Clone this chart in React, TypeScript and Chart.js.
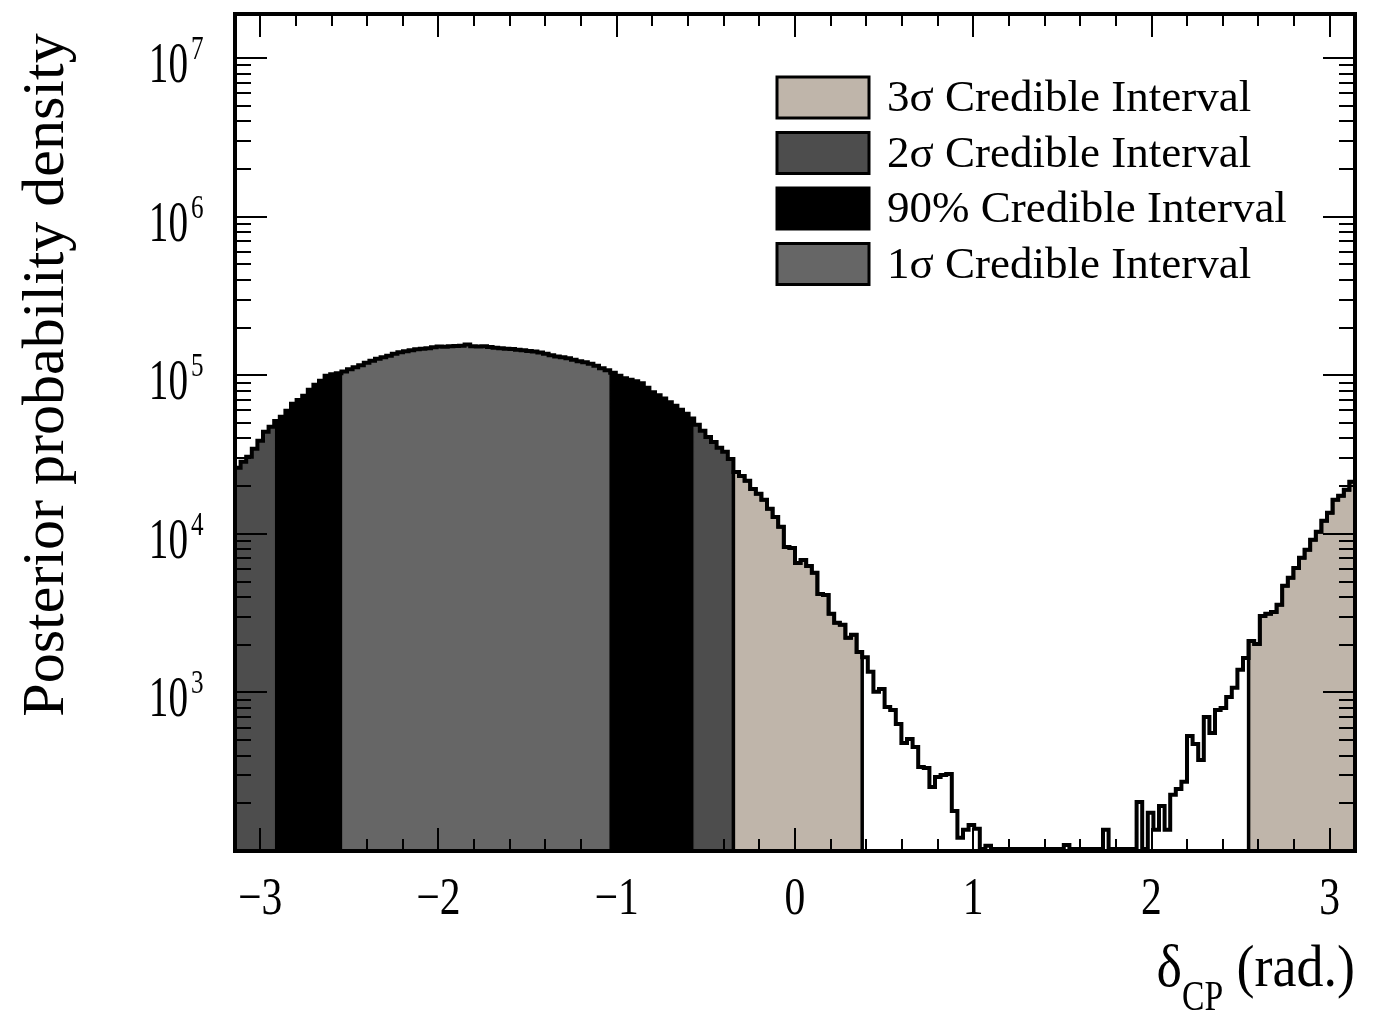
import React, { useEffect, useRef } from "react";
import { Chart, registerables } from "chart.js";

Chart.register(...registerables);

// ---------------- data ----------------
const NBINS = 200;
const X_MIN = -Math.PI;
const X_MAX = Math.PI;
const Y_MIN = 100;
const Y_MAX = 1.9e7;

// posterior probability density per bin (200 equal bins over [-pi, pi])
const density: number[] = [
  26100, 28500, 30600, 34400, 38600, 44000, 47300, 51600, 54700, 59700,
  66100, 70000, 74200, 81000, 87100, 92300, 99300, 101500, 103000, 105700,
  109100, 112300, 115600, 119900, 123500, 127100, 129900, 132800, 136700, 139700,
  141700, 143800, 145900, 147000, 148000, 150200, 151900, 151300, 152400, 152800,
  153900, 156200, 152400, 151900, 152400, 150800, 149500, 148000, 147000, 146300,
  144800, 143800, 142300, 141100, 139100, 136700, 133700, 131400, 129900, 128000,
  125300, 122600, 120800, 118200, 114800, 110700, 107500, 103700, 99300, 95700,
  93700, 91600, 89000, 83400, 78100, 74800, 71300, 67600, 64200, 60600,
  57200, 53500, 48700, 44700, 40900, 38000, 34900, 32900, 29700, 24600,
  23200, 21600, 19200, 17900, 16400, 14400, 12800, 11100, 8280, 8160,
  6560, 6850, 6280, 5680, 4180, 4120, 3130, 2750, 2670, 2210,
  2310, 1800, 1670, 1350, 1010, 1050, 810, 776, 633, 480,
  509, 453, 339, 334, 253, 293, 302, 306, 179, 121,
  136, 146, 138, 103, 108, 103, 103, 103, 103, 103,
  103, 103, 103, 103, 103, 103, 103, 103, 109, 103,
  103, 103, 103, 103, 103, 136, 103, 103, 103, 103,
  103, 204, 103, 174, 136, 192, 136, 226, 246, 273,
  532, 473, 375, 700, 555, 776, 798, 937, 1070, 1390,
  1650, 2110, 2020, 3040, 3130, 3220, 3570, 4700, 5280, 6100,
  7060, 7930, 9170, 10300, 12100, 13600, 16400, 17400, 19000, 21300,
];

const intervalLabels = [
  "3σ Credible Interval",
  "2σ Credible Interval",
  "90% Credible Interval",
  "1σ Credible Interval",
];
// inclusive bin ranges belonging to each (exclusive) credible band
const intervalBinRanges: number[][][] = [
  [[89, 111], [181, 199]],
  [[0, 6], [82, 88]],
  [[7, 18], [67, 81]],
  [[19, 66]],
];
const xTickValues = [-3, -2, -1, 0, 1, 2, 3];
const yTickExponents = [3, 4, 5, 6, 7];
const yAxisTitle = "Posterior probability density";
const xAxisTitleMain = "δ";
const xAxisTitleSub = "CP";
const xAxisTitleRest = " (rad.)";

// ---------------- styles ----------------
const intervalColors = ["#bfb5aa", "#4d4d4d", "#000000", "#666666"];
const intervalOutlined = [true, false, false, false];
const SERIF = '"Liberation Serif", "Times New Roman", serif';
const X_MINOR_STEP = 0.2;

function binEdge(k: number): number {
  return X_MIN + (k * (X_MAX - X_MIN)) / NBINS;
}

function buildDatasets(): any[] {
  const outline = density.map((v, k) => ({ x: binEdge(k), y: v }));
  outline.push({ x: binEdge(NBINS), y: density[NBINS - 1] });
  const ds: any[] = [
    {
      label: "posterior",
      data: outline,
      stepped: "before",
      borderColor: "#000000",
      borderWidth: 4,
      borderJoinStyle: "miter",
      fill: false,
      pointRadius: 0,
      order: 0,
    },
  ];
  intervalBinRanges.forEach((ranges, i) => {
    ranges.forEach(([a, b]) => {
      const pts: { x: number; y: number }[] = [];
      pts.push({ x: binEdge(a), y: Y_MIN });
      for (let k = a; k <= b; k++) pts.push({ x: binEdge(k), y: density[k] });
      pts.push({ x: binEdge(b + 1), y: density[b] });
      pts.push({ x: binEdge(b + 1), y: Y_MIN });
      ds.push({
        label: intervalLabels[i],
        data: pts,
        stepped: "before",
        borderColor: intervalOutlined[i] ? "#000000" : intervalColors[i],
        borderWidth: intervalOutlined[i] ? 3.5 : 1.5,
        borderJoinStyle: "miter",
        backgroundColor: intervalColors[i],
        fill: "start",
        pointRadius: 0,
        order: intervalOutlined[i] ? 1 : 2,
      });
    });
  });
  return ds;
}

function drawScaledText(
  ctx: CanvasRenderingContext2D,
  text: string,
  x: number,
  y: number,
  size: number,
  sx: number,
  align: CanvasTextAlign
) {
  ctx.save();
  ctx.font = `${size}px ${SERIF}`;
  ctx.textAlign = align;
  ctx.textBaseline = "alphabetic";
  ctx.translate(x, y);
  ctx.scale(sx, 1);
  ctx.fillText(text, 0, 0);
  ctx.restore();
}

function textWidth(ctx: CanvasRenderingContext2D, text: string, size: number, sx: number) {
  ctx.save();
  ctx.font = `${size}px ${SERIF}`;
  const w = ctx.measureText(text).width * sx;
  ctx.restore();
  return w;
}

const decorPlugin = {
  id: "rootDecor",
  afterDatasetsDraw(chart: any) {
    const { ctx, chartArea: ca, scales } = chart;
    const xs = scales.x;
    const ys = scales.y;
    ctx.save();
    ctx.fillStyle = "#000";
    ctx.strokeStyle = "#000";

    // ticks
    ctx.lineWidth = 2;
    ctx.beginPath();
    const i0 = Math.ceil(X_MIN / X_MINOR_STEP - 1e-9);
    const i1 = Math.floor(X_MAX / X_MINOR_STEP + 1e-9);
    for (let i = i0; i <= i1; i++) {
      const v = i * X_MINOR_STEP;
      const px = Math.round(xs.getPixelForValue(v));
      const len = i % 5 === 0 ? 23 : 12;
      ctx.moveTo(px, ca.bottom);
      ctx.lineTo(px, ca.bottom - len);
      ctx.moveTo(px, ca.top);
      ctx.lineTo(px, ca.top + len);
    }
    for (let e = 2; e <= 7; e++) {
      for (let m = 1; m <= 9; m++) {
        const v = m * Math.pow(10, e);
        if (v < Y_MIN || v > Y_MAX) continue;
        const py = Math.round(ys.getPixelForValue(v));
        const len = m === 1 ? 32 : 16;
        ctx.moveTo(ca.left, py);
        ctx.lineTo(ca.left + len, py);
        ctx.moveTo(ca.right, py);
        ctx.lineTo(ca.right - len, py);
      }
    }
    ctx.stroke();

    // frame
    ctx.lineWidth = 4;
    ctx.strokeRect(ca.left, ca.top, ca.right - ca.left, ca.bottom - ca.top);

    // y tick labels 10^n
    yTickExponents.forEach((e) => {
      const py = ys.getPixelForValue(Math.pow(10, e));
      drawScaledText(ctx, "10", 188, py + 24, 56, 0.7, "right");
      drawScaledText(ctx, String(e), 191, py + 1, 34, 0.74, "left");
    });

    // x tick labels
    xTickValues.forEach((v) => {
      const px = xs.getPixelForValue(v);
      const label = v < 0 ? "\u2212" + Math.abs(v) : String(v);
      drawScaledText(ctx, label, px, 914, 52, 0.8, "center");
    });

    // y title
    ctx.save();
    ctx.translate(63, 375);
    ctx.rotate(-Math.PI / 2);
    ctx.font = `60px ${SERIF}`;
    ctx.textAlign = "center";
    ctx.textBaseline = "alphabetic";
    ctx.fillText(yAxisTitle, 0, 0);
    ctx.restore();

    // x title
    const wMain = textWidth(ctx, xAxisTitleMain, 60, 0.9);
    const wSub = textWidth(ctx, xAxisTitleSub, 42, 0.8);
    const wRest = textWidth(ctx, xAxisTitleRest, 60, 0.9);
    let tx = ca.right - (wMain + wSub + wRest);
    drawScaledText(ctx, xAxisTitleMain, tx, 986, 60, 0.9, "left");
    tx += wMain;
    drawScaledText(ctx, xAxisTitleSub, tx, 1010, 42, 0.8, "left");
    tx += wSub;
    drawScaledText(ctx, xAxisTitleRest, tx, 986, 60, 0.9, "left");

    // legend
    intervalLabels.forEach((lab, i) => {
      const top = 77 + i * 55.5;
      ctx.fillStyle = intervalColors[i];
      ctx.fillRect(777, top, 92, 41);
      ctx.lineWidth = 3;
      ctx.strokeStyle = "#000";
      ctx.strokeRect(777, top, 92, 41);
      ctx.fillStyle = "#000";
      drawScaledText(ctx, lab, 887, top + 34, 45, 1, "left");
    });

    ctx.restore();
  },
};

export default function App() {
  const canvasRef = useRef<HTMLCanvasElement | null>(null);

  useEffect(() => {
    const canvas = canvasRef.current;
    if (!canvas) return;
    const chart = new Chart(canvas, {
      type: "line",
      data: { datasets: buildDatasets() },
      options: {
        animation: false,
        responsive: false,
        devicePixelRatio: 1,
        layout: { padding: { left: 0, top: 14, right: 20, bottom: 0 } },
        plugins: {
          legend: { display: false },
          tooltip: { enabled: false },
          title: { display: false },
        },
        elements: { line: { tension: 0 } },
        scales: {
          x: {
            type: "linear",
            min: X_MIN,
            max: X_MAX,
            grid: { display: false, drawTicks: false },
            border: { display: false },
            ticks: { display: false },
            afterFit: (scale: any) => {
              scale.height = 164;
            },
          },
          y: {
            type: "logarithmic",
            min: Y_MIN,
            max: Y_MAX,
            grid: { display: false, drawTicks: false },
            border: { display: false },
            ticks: { display: false },
            afterFit: (scale: any) => {
              scale.width = 235;
            },
          },
        },
      } as any,
      plugins: [decorPlugin],
    });
    return () => chart.destroy();
  }, []);

  return (
    <div style={{ position: "fixed", left: 0, top: 0, width: 1375, height: 1015, background: "#fff" }}>
      <canvas ref={canvasRef} width={1375} height={1015} style={{ display: "block" }} />
    </div>
  );
}
